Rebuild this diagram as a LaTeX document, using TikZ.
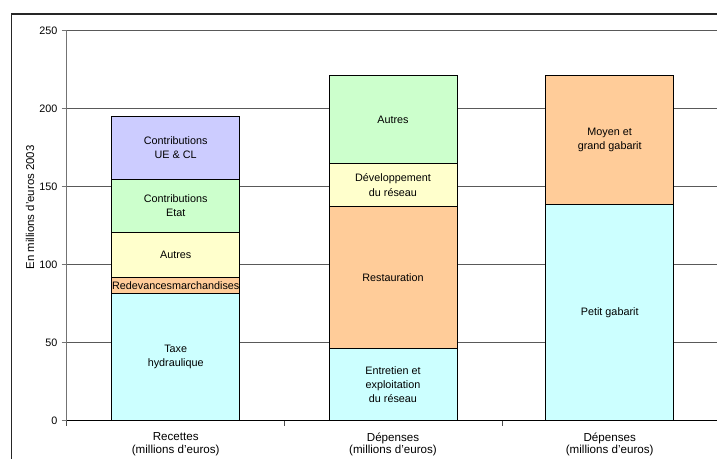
\documentclass[tikz,border=0pt]{standalone}
\usepackage{fontspec}
\setmainfont{Liberation Sans}
\usetikzlibrary{positioning}
\definecolor{lav}{HTML}{CCCCFF}
\definecolor{lgreen}{HTML}{CCFFCC}
\definecolor{lyellow}{HTML}{FFFFCC}
\definecolor{peach}{HTML}{FFCC99}
\definecolor{lcyan}{HTML}{CCFFFF}
\tikzset{seg/.style={draw=black, line width=0.7pt}}
\tikzset{lbl/.style={align=center, inner sep=0pt, font=\fontsize{10.8}{14.3}\selectfont}}
\tikzset{cat/.style={align=center, inner sep=0pt, font=\fontsize{11.6}{12.8}\selectfont}}
\tikzset{tlbl/.style={anchor=east, inner sep=0pt, font=\fontsize{10.8}{12}\selectfont}}
\tikzset{hline/.style={draw=black!65, line width=0.8pt}}

\begin{document}
\begin{tikzpicture}[x=1pt, y=1.56pt]
        \useasboundingbox (-66.7,-23.9) rectangle (650.3,269.7);
        \clip (-66.7,-23.9) rectangle (650.3,269.7);

        % frame of the chart
        \draw[black!85, line width=1.3pt] (-55,-40) -- (-55,260.7) -- (700,260.7);

        % grid and y ticks
        \foreach \v in {50,100,...,250} {
            \draw[hline] (0,\v) -- (660,\v);
        }
        \foreach \v in {0,50,...,250} {
            \draw[black!55, line width=0.8pt] (-5,\v) -- (0,\v);
            \node[tlbl] (tick\v) at (-9,\v) {\v};
        }

        \node[rotate=90, font=\fontsize{11.4}{12}\selectfont] (ytitle) at (-36.7,136.7) {En millions d'euros 2003};

        % recettes
        \filldraw[seg, fill=lcyan] (45,0) rectangle (173,81.4);
        \filldraw[seg, fill=peach] (45,81.4) rectangle (173,91.9);
        \filldraw[seg, fill=lyellow] (45,91.9) rectangle (173,120.8);
        \filldraw[seg, fill=lgreen] (45,120.8) rectangle (173,154.7);
        \filldraw[seg, fill=lav] (45,154.7) rectangle (173,195.3);

        \node[lbl] (taxe) at (109,40.7) {Taxe\\hydraulique};
        \node[lbl] (redev) at (109,86.7) {Redevancesmarchandises};
        \node[lbl] (autresR) at (109,106.3) {Autres};
        \node[lbl] (etat) at (109,137.7) {Contributions\\Etat};
        \node[lbl] (ue) at (109,175) {Contributions\\UE \& CL};

        % depenses par poste
        \filldraw[seg, fill=lcyan] (262.3,0) rectangle (390.3,46.4);
        \filldraw[seg, fill=peach] (262.3,46.4) rectangle (390.3,137.4);
        \filldraw[seg, fill=lyellow] (262.3,137.4) rectangle (390.3,164.7);
        \filldraw[seg, fill=lgreen] (262.3,164.7) rectangle (390.3,221.4);

        \node[lbl] (entretien) at (326.3,23.2) {Entretien et\\exploitation\\du réseau};
        \node[lbl] (resto) at (326.3,91.9) {Restauration};
        \node[lbl] (dev) at (326.3,151) {Développement\\du réseau};
        \node[lbl] (autresD) at (326.3,193) {Autres};

        % depenses par gabarit
        \filldraw[seg, fill=lcyan] (479,0) rectangle (607,138.7);
        \filldraw[seg, fill=peach] (479,138.7) rectangle (607,221.4);

        \node[lbl] (petit) at (543,69.3) {Petit gabarit};
        \node[lbl] (moyen) at (543,180) {Moyen et\\grand gabarit};

        % axes
        \draw[black!55, line width=0.8pt] (0,0) -- (0,250);
        \draw[black, line width=0.9pt] (0,0) -- (660,0);
        \foreach \x in {0,217.6,435.2} {
            \draw[black!70, line width=0.8pt] (\x,0) -- (\x,-3.2);
        }

        \node[cat] (recettes) at (109,-15.2) {Recettes\\(millions d'euros)};
        \node[cat] (depA) at (326.3,-15.2) {Dépenses\\(millions d'euros)};
        \node[cat] (depB) at (543,-15.2) {Dépenses\\(millions d'euros)};
    \end{tikzpicture}
\end{document}
